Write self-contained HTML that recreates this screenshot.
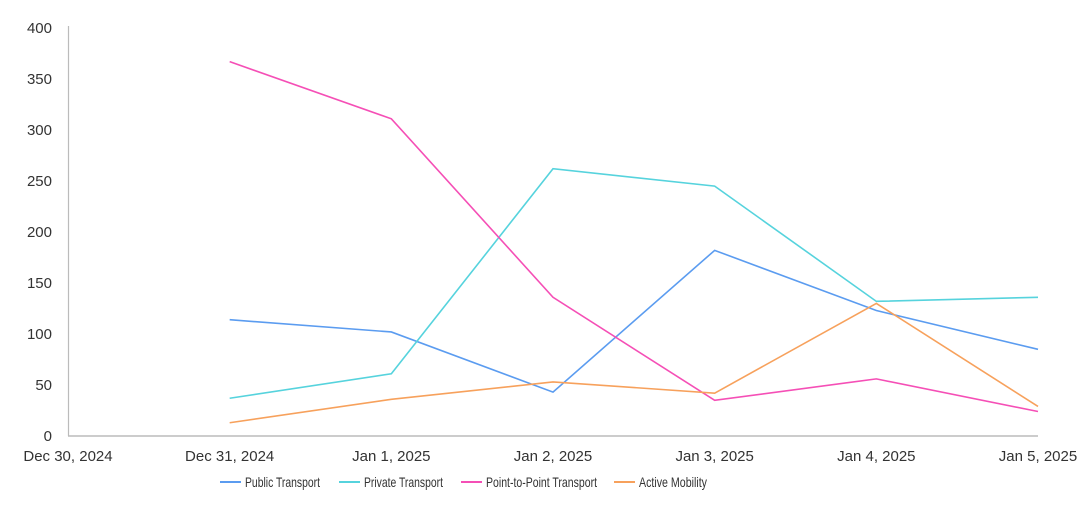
<!DOCTYPE html>
<html><head><meta charset="utf-8"><style>
body{margin:0;background:#fff;font-family:"Liberation Sans",sans-serif;}
svg text{font-family:"Liberation Sans",sans-serif;fill:#333;}
</style></head><body>
<svg id="chart" width="1092" height="501" xmlns="http://www.w3.org/2000/svg">
<g id="grid"></g><g id="series"></g><g id="legend"></g>
</svg>
<script>
const categories=["Dec 30, 2024","Dec 31, 2024","Jan 1, 2025","Jan 2, 2025","Jan 3, 2025","Jan 4, 2025","Jan 5, 2025"];
const yTicks=[0,50,100,150,200,250,300,350,400];
const seriesNames=["Public Transport","Private Transport","Point-to-Point Transport","Active Mobility"];
const seriesColors=["#5b9cf0","#56d3dd","#f54fb6","#f7a15c"];
const publicTransport=[null,114,102,43,182,123,85];
const privateTransport=[null,37,61,262,245,132,136];
const pointToPoint=[null,367,311,136,35,56,24];
const activeMobility=[null,13,36,53,42,130,29];
const allSeries=[publicTransport,privateTransport,pointToPoint,activeMobility];

const NS="http://www.w3.org/2000/svg";
const x0=68,x1=1038,y0=436,y1=28;
const xs=i=>x0+(x1-x0)*i/(categories.length-1);
const ys=v=>y0-(y0-y1)*v/400;
function mk(tag,attrs,parent){const e=document.createElementNS(NS,tag);for(const k in attrs)e.setAttribute(k,attrs[k]);parent.appendChild(e);return e;}
const grid=document.getElementById('grid');
let ax=mk('line',{x1:x0,y1:y0,x2:x1,y2:y0,stroke:'#bbb','stroke-width':1.5},grid);


ax=mk('line',{x1:x0+0.5,y1:26,x2:x0+0.5,y2:y0,stroke:'#bbb','stroke-width':1.2},grid);


yTicks.forEach(v=>{const t=mk('text',{x:52,y:ys(v)+5,'text-anchor':'end','font-size':15},grid);t.textContent=v;

});
categories.forEach((c,i)=>{const t=mk('text',{x:xs(i),y:461,'text-anchor':'middle','font-size':15},grid);t.textContent=c;

});
const sg=document.getElementById('series');
allSeries.forEach((s,k)=>{let pts=[];s.forEach((v,i)=>{if(v!==null)pts.push(xs(i)+','+ys(v));});
const p=mk('polyline',{points:pts.join(' '),fill:'none',stroke:seriesColors[k],'stroke-width':1.6},sg);

});
const lg=document.getElementById('legend');
const lx=[220,339,461,614];
const lw=[75,79,111,68];
seriesNames.forEach((n,k)=>{const g=mk('g',{},lg);


mk('line',{x1:lx[k],y1:482,x2:lx[k]+21,y2:482,stroke:seriesColors[k],'stroke-width':2},g);
const t=mk('text',{x:lx[k]+25,y:487,'font-size':14,textLength:lw[k],lengthAdjust:'spacingAndGlyphs'},g);t.textContent=n;});
</script>
</body></html>
